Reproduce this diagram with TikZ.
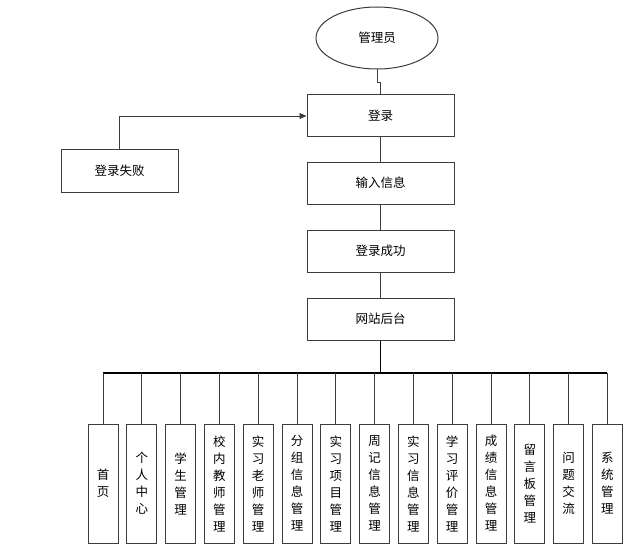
\documentclass[tikz,border=0pt]{standalone}
\usepackage{fontspec}
\setmainfont{Noto Sans CJK SC}
\usetikzlibrary{shapes.geometric,arrows.meta}
\definecolor{edge}{RGB}{60,60,60}
\tikzset{
  box/.style={draw=edge,line width=1pt,fill=white,minimum width=147pt,minimum height=42pt,inner sep=0pt,font=\fontsize{12.5}{15}\selectfont},
  vbox/.style={draw=edge,line width=1pt,fill=white,minimum width=30pt,minimum height=119pt,inner sep=0pt,align=center,font=\fontsize{12.5}{17}\selectfont},
  conn/.style={draw=edge,line width=0.9pt},
  bus/.style={draw=black,line width=1.5pt},
}
\begin{document}
\begin{tikzpicture}[x=1pt,y=-1pt]
\useasboundingbox (0,0) rectangle (628,548);
\node[ellipse,draw=edge,line width=1pt,fill=white,minimum width=122pt,minimum height=62pt,inner sep=0pt,font=\fontsize{12.5}{15}\selectfont] (adm) at (377,38) {管理员};
\node[box] (login) at (380.5,116) {登录};
\node[box] (input) at (380.5,183) {输入信息};
\node[box] (succ) at (380.5,251) {登录成功};
\node[box] (back) at (380.5,319) {网站后台};
\node[box,minimum width=117pt] (fail) at (119.5,171) {登录失败};
\foreach \i/\t in {0/{首\\页},1/{个\\人\\中\\心},2/{学\\生\\管\\理},3/{校\\内\\教\\师\\管\\理},4/{实\\习\\老\\师\\管\\理},5/{分\\组\\信\\息\\管\\理},6/{实\\习\\项\\目\\管\\理},7/{周\\记\\信\\息\\管\\理},8/{实\\习\\信\\息\\管\\理},9/{学\\习\\评\\价\\管\\理},10/{成\\绩\\信\\息\\管\\理},11/{留\\言\\板\\管\\理},12/{问\\题\\交\\流},13/{系\\统\\管\\理}}{
  \node[vbox] (b\i) at ({103+38.8*\i},483.5) {\t};
}
\coordinate (busy) at (0,373);
\coordinate (busL) at (b0.north |- busy);
\coordinate (busR) at (b13.north |- busy);
\draw[conn] (adm.south) -- ++(0,13) -| (login.north);
\draw[conn,-{Triangle[length=7pt,width=6pt]}] (fail.north) |- (login.west);
\draw[conn] (login.south) -- (input.north);
\draw[conn] (input.south) -- (succ.north);
\draw[conn] (succ.south) -- (back.north);
\draw[bus] (back.south) -- (back.south |- busy);
\draw[bus] (busL) -- (busR);
\foreach \i in {0,...,13}{
  \draw[conn] (b\i.north) -- (b\i.north |- busy);
}
\end{tikzpicture}
\end{document}
